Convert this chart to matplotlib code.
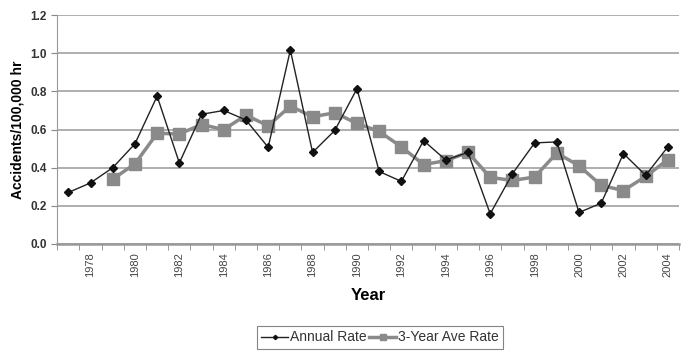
import numpy as np
import matplotlib.pyplot as plt

plt.rcParams['font.family'] = ['Liberation Sans', 'DejaVu Sans']

years = list(range(1977, 2005))
annual = [0.27, 0.32, 0.40, 0.525, 0.775, 0.425, 0.68, 0.70, 0.65, 0.507,
          1.017, 0.48, 0.595, 0.814, 0.38, 0.328, 0.542, 0.44, 0.48, 0.158,
          0.368, 0.53, 0.535, 0.165, 0.214, 0.474, 0.36, 0.509]
ave_years = list(range(1979, 2005))
ave3 = [0.34, 0.42, 0.58, 0.577, 0.626, 0.60, 0.675, 0.62, 0.723, 0.667,
        0.688, 0.632, 0.59, 0.509, 0.416, 0.437, 0.48, 0.349, 0.333, 0.351,
        0.477, 0.41, 0.307, 0.28, 0.354, 0.442]

fig = plt.figure(figsize=(6.81, 3.52), dpi=100, facecolor='white')
ax = fig.add_axes([0.084, 0.307, 0.913, 0.65])

x_ann = np.array(years) - years[0]
x_ave = np.array(ave_years) - years[0]

ax.plot(x_ann, annual, color='#222222', lw=1.0, marker='D', ms=4,
        mfc='#111111', mec='#111111', label='Annual Rate', zorder=3)
ax.plot(x_ave, ave3, color='#8a8a8a', lw=2.5, marker='s', ms=9,
        mfc='#8a8a8a', mec='#8a8a8a', label='3-Year Ave Rate', zorder=2)

ax.set_xlim(-0.5, len(years) - 0.5)
ax.set_ylim(0, 1.2)
ax.set_yticks(np.arange(0, 1.21, 0.2))
ax.set_yticklabels([f'{v:.1f}' for v in np.arange(0, 1.21, 0.2)],
                   fontweight='bold', fontsize=8.5, color='#333333')
ax.yaxis.grid(True, color='#a8a8a8', lw=1.3)
ax.set_axisbelow(True)

ax.set_xticks(np.arange(-0.5, len(years), 1.0), minor=True)
lab_years = [y for y in years if y % 2 == 0]
ax.set_xticks([y - years[0] for y in lab_years])
ax.set_xticklabels([str(y) for y in lab_years], rotation=90, fontsize=8,
                   color='#444444')
ax.tick_params(axis='x', which='major', length=0, pad=6)
ax.tick_params(axis='x', which='minor', length=4, color='#888888')
ax.tick_params(axis='y', length=4, color='#888888')

for s in ['top', 'right']:
    ax.spines[s].set_visible(False)
ax.spines['left'].set_color('#999999')
ax.spines['bottom'].set_color('#999999')
ax.spines['bottom'].set_linewidth(1.8)

ax.set_ylabel('Accidents/100,000 hr', fontweight='bold', fontsize=10)
ax.set_xlabel('Year', fontweight='bold', fontsize=12, labelpad=8)

leg = fig.legend(loc='lower center', bbox_to_anchor=(0.558, -0.01), ncol=2,
                 fontsize=10, frameon=True, fancybox=False, edgecolor='#666666',
                 handlelength=1.9, columnspacing=0.2, handletextpad=0.15,
                 borderpad=0.3, markerscale=0.55)
leg.get_frame().set_linewidth(0.8)
for t in leg.get_texts():
    t.set_color('#333333')

fig.savefig('out.png', dpi=100, facecolor='white')
